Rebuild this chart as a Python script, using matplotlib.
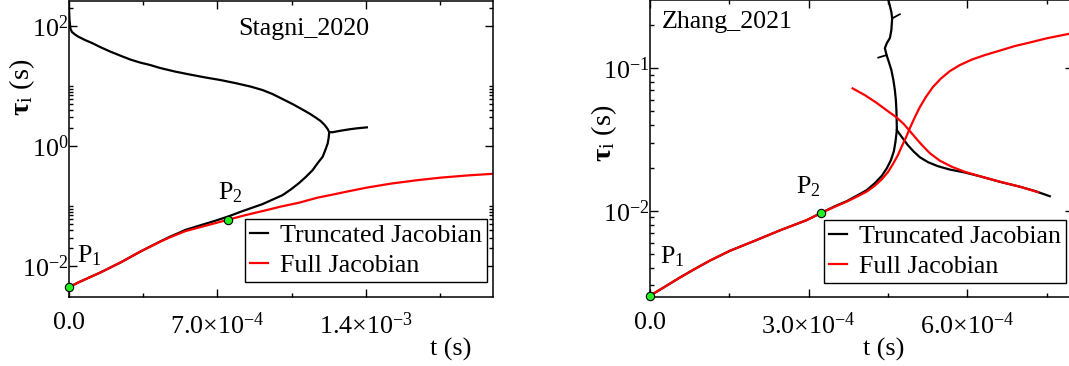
import matplotlib
matplotlib.use("Agg")
import matplotlib.pyplot as plt
from matplotlib.ticker import FixedLocator, FixedFormatter, NullFormatter

plt.rcParams['font.family'] = ['Liberation Serif', 'DejaVu Serif']
plt.rcParams['mathtext.fontset'] = 'custom'
plt.rcParams['mathtext.rm'] = 'Liberation Serif'
plt.rcParams['mathtext.it'] = 'Liberation Serif:italic'
plt.rcParams['mathtext.bf'] = 'Liberation Serif:bold'

# ---------------- data: Stagni_2020 (left) ----------------
s_full_t = [0, 5.203e-5, 9.933e-5, 1.4662e-4, 1.9392e-4, 2.4121e-4, 2.8851e-4, 3.358e-4,
            3.831e-4, 4.304e-4, 4.777e-4, 5.4865e-4, 6.196e-4, 6.905e-4, 7.52e-4,
            8.324e-4, 9.318e-4, 9.98e-4, 1.0831e-3, 1.173e-3, 1.2439e-3, 1.329e-3,
            1.4047e-3, 1.5182e-3, 1.6459e-3, 1.7547e-3, 1.8824e-3, 2.0e-3]
s_full_tau = [0.00447, 0.00552, 0.00656, 0.0078, 0.00944, 0.01143, 0.0141, 0.01745,
              0.0211, 0.0256, 0.0304, 0.0383, 0.0447, 0.0521, 0.0596,
              0.0708, 0.0858, 0.0981, 0.1135, 0.1386, 0.1556, 0.1799,
              0.2034, 0.2371, 0.2712, 0.2985, 0.325, 0.3455]

s_tr_up_t = [0, 2.36e-6, 7.09e-6, 1.419e-5, 2.838e-5, 4.257e-5, 7.568e-5, 1.0878e-4,
             1.4662e-4, 1.9392e-4, 2.4121e-4, 2.8851e-4, 3.358e-4, 3.831e-4, 4.304e-4,
             5.0135e-4, 5.723e-4, 6.432e-4, 7.142e-4, 7.851e-4, 8.561e-4, 9.128e-4,
             9.601e-4, 1.00743e-3, 1.0547e-3, 1.0926e-3, 1.1304e-3, 1.1635e-3,
             1.1872e-3, 1.2061e-3, 1.2203e-3, 1.2274e-3]
s_tr_up_tau = [199.5, 125.9, 89.1, 79.4, 72.2, 66.8, 58.4, 52.1,
               44.7, 37.6, 32.2, 27.7, 24.6, 22.4, 19.95,
               17.4, 15.5, 13.9, 12.6, 11.2, 9.81, 8.58,
               7.36, 6.07, 5.01, 4.22, 3.55, 2.99,
               2.61, 2.24, 1.92, 1.71]

s_tr_lo_t = [0, 5.203e-5, 9.933e-5, 1.4662e-4, 1.9392e-4, 2.4121e-4, 2.8851e-4, 3.358e-4,
             3.831e-4, 4.304e-4, 4.777e-4, 5.25e-4, 5.4865e-4, 6.196e-4, 6.905e-4,
             7.52e-4, 8.182e-4, 9.128e-4, 1.0074e-3, 1.0453e-3, 1.0831e-3,
             1.1162e-3, 1.1493e-3, 1.173e-3, 1.1966e-3, 1.2108e-3, 1.2203e-3,
             1.225e-3, 1.2274e-3]
s_tr_lo_tau = [0.00447, 0.00552, 0.00656, 0.0078, 0.00944, 0.01143, 0.0141, 0.01745,
               0.0212, 0.0258, 0.0311, 0.0367, 0.0401, 0.0479, 0.0571,
               0.0674, 0.0825, 0.108, 0.1525, 0.1884, 0.239,
               0.304, 0.398, 0.521, 0.664, 0.891, 1.109,
               1.386, 1.71]

s_tr_post_t = [1.2274e-3, 1.2424e-3, 1.28e-3, 1.321e-3, 1.36e-3, 1.405e-3]
s_tr_post_tau = [1.71, 1.70, 1.80, 1.90, 1.98, 2.05]

s_pts_t = [0, 7.52e-4]
s_pts_tau = [0.00447, 0.0596]

# ---------------- data: Zhang_2021 (right) ----------------
z_full1_t = [0, 0.2836e-4, 0.5671e-4, 0.8507e-4, 1.134e-4, 1.512e-4, 1.985e-4, 2.457e-4,
             2.962e-4, 3.238e-4, 3.497e-4, 3.718e-4, 3.894e-4, 4.096e-4, 4.253e-4,
             4.386e-4, 4.499e-4, 4.594e-4, 4.688e-4, 4.764e-4, 4.839e-4, 4.915e-4,
             5.009e-4, 5.104e-4, 5.217e-4, 5.350e-4, 5.501e-4, 5.671e-4, 5.860e-4,
             6.087e-4, 6.333e-4, 6.616e-4, 6.900e-4, 7.183e-4, 7.499e-4, 7.921e-4, 8.0e-4]
z_full1_tau = [0.00254, 0.00294, 0.00341, 0.00392, 0.00448, 0.00525, 0.00618, 0.00730,
               0.00861, 0.00968, 0.01070, 0.01161, 0.01248, 0.01364, 0.01503,
               0.0167, 0.0187, 0.0213, 0.0246, 0.0285, 0.0326, 0.0381,
               0.0455, 0.0535, 0.0629, 0.074, 0.0848, 0.0957, 0.1055,
               0.1153, 0.1240, 0.1333, 0.1435, 0.1519, 0.1625, 0.1747, 0.177]

z_full2_t = [3.832e-4, 4.064e-4, 4.291e-4, 4.499e-4, 4.669e-4, 4.802e-4, 4.915e-4,
             5.028e-4, 5.142e-4, 5.293e-4, 5.482e-4, 5.709e-4, 5.955e-4, 6.238e-4,
             6.616e-4, 6.994e-4, 7.340e-4]
z_full2_tau = [0.0724, 0.0649, 0.0571, 0.0501, 0.0451, 0.0406, 0.0363,
               0.0324, 0.0290, 0.0254, 0.0225, 0.0204, 0.0188, 0.01752,
               0.01603, 0.01479, 0.01352]

z_tr1_t = [0, 0.2836e-4, 0.5671e-4, 0.8507e-4, 1.134e-4, 1.512e-4, 1.985e-4, 2.457e-4,
           2.962e-4, 3.238e-4, 3.497e-4, 3.718e-4, 3.894e-4, 4.096e-4, 4.253e-4,
           4.386e-4, 4.480e-4, 4.556e-4, 4.612e-4, 4.641e-4, 4.660e-4, 4.669e-4,
           4.665e-4, 4.660e-4, 4.650e-4, 4.631e-4, 4.603e-4, 4.565e-4, 4.518e-4,
           4.474e-4, 4.442e-4, 4.480e-4, 4.537e-4, 4.565e-4, 4.575e-4, 4.580e-4,
           4.565e-4, 4.537e-4, 4.509e-4, 4.499e-4]
z_tr1_tau = [0.00254, 0.00294, 0.00341, 0.00392, 0.00448, 0.00525, 0.00618, 0.00730,
             0.00861, 0.00968, 0.01079, 0.01169, 0.01268, 0.01396, 0.01566,
             0.01766, 0.01995, 0.0227, 0.0262, 0.0303, 0.0346, 0.0369,
             0.0434, 0.0510, 0.0599, 0.0704, 0.0828, 0.0973, 0.1107,
             0.1240, 0.1389, 0.1506, 0.1633, 0.1858, 0.2113, 0.2245,
             0.2483, 0.2742, 0.302, 0.317]

z_tr2_t = [4.669e-4, 4.707e-4, 4.783e-4, 4.877e-4, 4.991e-4, 5.104e-4, 5.255e-4,
           5.444e-4, 5.671e-4, 5.955e-4, 6.238e-4, 6.616e-4, 6.994e-4, 7.278e-4, 7.561e-4]
z_tr2_tau = [0.0369, 0.0352, 0.0322, 0.0289, 0.0260, 0.0238, 0.0220,
             0.0206, 0.0195, 0.0186, 0.0175, 0.0160, 0.01478, 0.0138, 0.01268]

z_spur1_t = [4.474e-4, 4.317e-4]
z_spur1_tau = [0.124, 0.119]
z_spur2_t = [4.580e-4, 4.726e-4]
z_spur2_tau = [0.2245, 0.240]

z_pts_t = [0, 3.238e-4]
z_pts_tau = [0.00254, 0.00968]

# tick definitions
s_xticks = [0, 7e-4, 1.4e-3]
s_xticklabels = [r'$0.0$', r'$7.0{\times}10^{-4}$', r'$1.4{\times}10^{-3}$']
s_xminor = [3.5e-4, 1.05e-3, 1.75e-3]
s_yticks = [1e-2, 1e0, 1e2]
s_yticklabels = [r'$10^{-2}$', r'$10^{0}$', r'$10^{2}$']
s_yminor = [k * 1e-2 for k in range(2, 11)] + [k * 1e0 for k in range(2, 11)] + [2e2]

z_xticks = [0, 3e-4, 6e-4]
z_xticklabels = [r'$0.0$', r'$3.0{\times}10^{-4}$', r'$6.0{\times}10^{-4}$']
z_xminor = [1.5e-4, 4.5e-4, 7.5e-4]
z_yticks = [1e-2, 1e-1]
z_yticklabels = [r'$10^{-2}$', r'$10^{-1}$']
z_yminor = [k * 1e-3 for k in range(3, 10)] + [k * 1e-2 for k in range(2, 10)] + [2e-1]

W, H = 1069, 366
FS = 18.7
fig = plt.figure(figsize=(W / 100, H / 100), dpi=100)

def px_rect(x0, y0, x1, y1):
    return [x0 / W, 1 - y1 / H, (x1 - x0) / W, (y1 - y0) / H]

axL = fig.add_axes(px_rect(69, 1, 493, 296.7))
axR = fig.add_axes(px_rect(650, 0.4, 1073, 296.7))

LW = 1.6
RED = '#ff0000'

# left panel
axL.plot(s_tr_up_t, s_tr_up_tau, color='black', lw=LW, label='Truncated Jacobian')
axL.plot(s_tr_lo_t, s_tr_lo_tau, color='black', lw=LW)
axL.plot(s_tr_post_t, s_tr_post_tau, color='black', lw=LW)
axL.plot(s_full_t, s_full_tau, color=RED, lw=LW, label='Full Jacobian')
axL.plot(s_pts_t, s_pts_tau, ls='none', marker='o', ms=6, mfc='#22ee22',
         mec='black', mew=0.8, zorder=5, clip_on=False)

# right panel
axR.plot(z_tr1_t, z_tr1_tau, color='black', lw=LW, label='Truncated Jacobian')
axR.plot(z_tr2_t, z_tr2_tau, color='black', lw=LW)
axR.plot(z_spur1_t, z_spur1_tau, color='black', lw=LW * 0.8)
axR.plot(z_spur2_t, z_spur2_tau, color='black', lw=LW * 0.8)
axR.plot(z_full1_t, z_full1_tau, color=RED, lw=LW, label='Full Jacobian')
axR.plot(z_full2_t, z_full2_tau, color=RED, lw=LW)
axR.plot(z_pts_t, z_pts_tau, ls='none', marker='o', ms=6, mfc='#22ee22',
         mec='black', mew=0.8, zorder=5, clip_on=False)

axL.set_xlim(0, 2.0e-3)
axL.set_yscale('log')
axL.set_ylim(0.0031, 261)
axR.set_xlim(0, 8.0e-4)
axR.set_yscale('log')
axR.set_ylim(0.0025, 0.3)

def style(ax, xt, xtl, xm, yt, ytl, ym):
    ax.xaxis.set_major_locator(FixedLocator(xt))
    ax.xaxis.set_major_formatter(FixedFormatter(xtl))
    ax.xaxis.set_minor_locator(FixedLocator(xm))
    ax.yaxis.set_major_locator(FixedLocator(yt))
    ax.yaxis.set_major_formatter(FixedFormatter(ytl))
    ax.yaxis.set_minor_locator(FixedLocator(ym))
    ax.yaxis.set_minor_formatter(NullFormatter())
    ax.xaxis.set_minor_formatter(NullFormatter())
    ax.tick_params(which='both', direction='in', top=True, right=True,
                   width=1.0, colors='black', labelsize=FS)
    ax.tick_params(which='major', length=5.5)
    ax.tick_params(which='minor', length=3.2)
    ax.tick_params(axis='x', which='major', pad=11)
    ax.tick_params(axis='y', which='major', pad=0.5)
    for s in ax.spines.values():
        s.set_linewidth(1.1)
        s.set_color('black')

style(axL, s_xticks, s_xticklabels, s_xminor, s_yticks, s_yticklabels, s_yminor)
style(axR, z_xticks, z_xticklabels, z_xminor, z_yticks, z_yticklabels, z_yminor)

# titles inside
fig.text(238 / W, 1 - 29 / H, 'Stagni_2020', fontsize=FS, ha='left', va='center')
fig.text(662 / W, 1 - 22 / H, 'Zhang_2021', fontsize=FS, ha='left', va='center')

# axis labels
ylab = r'$\mathbf{\tau}_{\mathrm{i}}$' + ' (s)'
fig.text(22 / W, 1 - 87 / H, ylab, fontsize=20.5, rotation=90, ha='center', va='center')
fig.text(604 / W, 1 - 133 / H, ylab, fontsize=20.5, rotation=90, ha='center', va='center')
fig.text(451 / W, 1 - 349 / H, 't (s)', fontsize=FS, ha='center', va='center')
fig.text(884 / W, 1 - 349 / H, 't (s)', fontsize=FS, ha='center', va='center')

# point annotations
def ann(ax, x, y, label, dx, dy):
    ax.annotate(label, xy=(x, y), xytext=(dx, dy), textcoords='offset pixels',
                fontsize=FS, ha='left', va='baseline', annotation_clip=False)

ann(axL, s_pts_t[0], s_pts_tau[0], r'$\mathrm{P}_{1}$', 8, 25)
ann(axL, s_pts_t[1], s_pts_tau[1], r'$\mathrm{P}_{2}$', -10, 20)
ann(axR, z_pts_t[0], z_pts_tau[0], r'$\mathrm{P}_{1}$', 10, 32)
ann(axR, z_pts_t[1], z_pts_tau[1], r'$\mathrm{P}_{2}$', -25, 20)

# legends
def leg(ax, x0, y0):
    lg = ax.legend(loc='upper left', bbox_to_anchor=(x0 / W, 1 - y0 / H),
                   bbox_transform=fig.transFigure, fontsize=FS, frameon=True,
                   fancybox=False, shadow=False, borderaxespad=0, borderpad=0.2,
                   labelspacing=0.25, handlelength=0.7, handletextpad=0.45)
    fr = lg.get_frame()
    fr.set_edgecolor('black')
    fr.set_linewidth(1.0)
    fr.set_alpha(1)

leg(axL, 245, 219)
leg(axR, 824, 220)

fig.savefig('out.png', dpi=100)
